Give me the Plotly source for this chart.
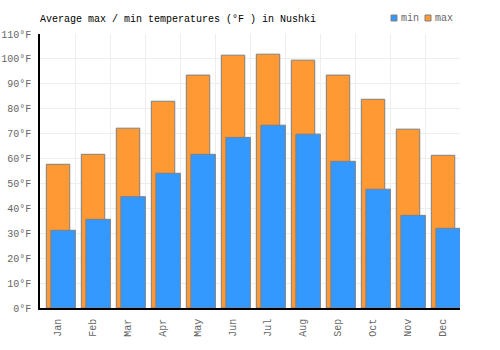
import plotly.graph_objects as go

months = ["Jan", "Feb", "Mar", "Apr", "May", "Jun", "Jul", "Aug", "Sep", "Oct", "Nov", "Dec"]
max_f = [57.7, 61.7, 72.2, 83.0, 93.5, 101.5, 101.9, 99.5, 93.5, 83.8, 71.8, 61.3]
min_f = [31.2, 35.6, 44.7, 54.1, 61.7, 68.5, 73.4, 69.8, 58.9, 47.7, 37.2, 32.0]
y_ticks = list(range(0, 111, 10))
series_names = ["min", "max"]
series_colors = ["#3399FF", "#FF9933"]

FONT = "Liberation Mono"
W, H = 500, 350
L, R, T, B = 40, 40, 34, 42
PW = W - L - R
PH = H - T - B

fig = go.Figure()
fig.add_trace(go.Bar(
    x=months, y=max_f, name="max",
    marker=dict(color=series_colors[1], line=dict(color="#808080", width=1)),
    width=0.67, offset=-0.32,
))
fig.add_trace(go.Bar(
    x=months, y=min_f, name="min",
    marker=dict(color=series_colors[0], line=dict(color="#808080", width=1)),
    width=0.70, offset=-0.19,
))

# manual legend (px positions converted to paper coords)
def px_x(px):
    return (px - L) / PW

def px_y(py):
    return (H - B - py) / PH

legend_x = [391, 425]
for name, col, lx in zip(series_names, series_colors, legend_x):
    fig.add_shape(type="rect", xref="paper", yref="paper",
                  x0=px_x(lx), x1=px_x(lx + 6), y0=px_y(21), y1=px_y(15),
                  fillcolor=col, line=dict(color="#808080", width=1))
    fig.add_annotation(text=name, xref="paper", yref="paper",
                       x=px_x(lx + 8), y=px_y(18), xanchor="left", yanchor="middle",
                       showarrow=False, font=dict(family=FONT, size=10, color="#666666"))

fig.update_layout(
    width=W, height=H,
    margin=dict(l=L, r=R, t=T, b=B, autoexpand=False),
    barmode="overlay",
    showlegend=False,
    plot_bgcolor="white", paper_bgcolor="white",
    font=dict(family=FONT, size=10, color="#666666"),
    title=dict(text="Average max / min temperatures (°F ) in Nushki",
               x=40/W, xanchor="left", y=1-18/H, yanchor="middle",
               font=dict(family=FONT, size=10, color="#000000")),
)
fig.update_xaxes(
    type="category", tickson="boundaries", showgrid=True, gridcolor="#eeeeee", gridwidth=1,
    showline=True, linecolor="#000000", linewidth=1.5, tickangle=-90, ticks="",
    tickfont=dict(family=FONT, size=10, color="#666666"),
    range=[-0.5, 11.5], ticklabelstandoff=5,
)
fig.update_yaxes(
    range=[0, 110], tickvals=y_ticks, ticktext=[f"{v}°F" for v in y_ticks],
    showgrid=True, gridcolor="#eeeeee", gridwidth=1,
    showline=True, linecolor="#000000", linewidth=1.5, ticks="", zeroline=False,
    tickfont=dict(family=FONT, size=10, color="#666666"), ticklabelstandoff=5,
)

fig.write_html("out.html")
